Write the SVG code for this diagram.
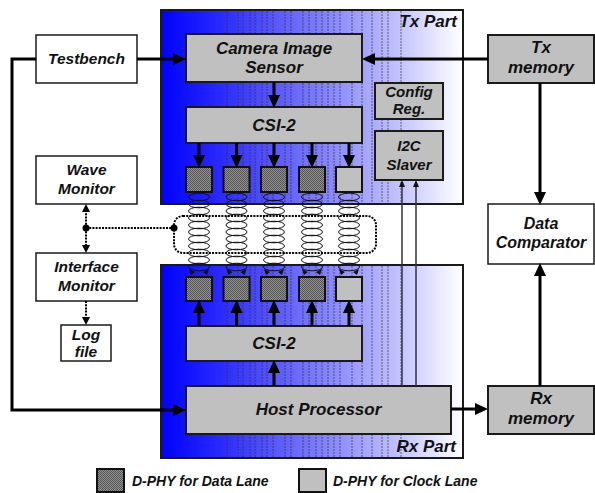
<svg xmlns="http://www.w3.org/2000/svg" width="595" height="493" viewBox="0 0 595 493">
  <style>
    .t { font-family: "Liberation Sans", Arial, sans-serif; font-weight: bold; font-style: italic; font-size: 16px; text-anchor: middle; fill: #111; }
    .big { font-size: 17px; }
    .mid { font-size: 15.5px; }
    .sm { font-size: 15px; }
    .leg { font-size: 14px; text-anchor: start; }
    .end { text-anchor: end; }
    .part { fill: url(#blueFade); stroke: #1a1a1a; stroke-width: 2; }
    .gbox { fill: #c0c0c0; stroke: #1a1a1a; stroke-width: 2; }
    .wbox { fill: #ffffff; stroke: #1a1a1a; stroke-width: 1.5; }
    .phyD { fill: url(#hatch); stroke: #111; stroke-width: 2; }
    .phyC { fill: #c0c0c0; stroke: #111; stroke-width: 2; }
    .band { stroke: #3b3420; stroke-width: 0.8; stroke-dasharray: 2 1; opacity: 0.85; }
    .main { stroke: #000; stroke-width: 3; fill: none; }
    .dot { stroke: #000; stroke-width: 2; stroke-dasharray: 2 1.2; fill: none; }
    .thin { stroke: #333; stroke-width: 1.5; fill: none; }
    .coil { fill: none; stroke: #111; stroke-width: 1; }
  </style>
  <defs>
    <linearGradient id="blueFade" x1="0" y1="0" x2="1" y2="0">
      <stop offset="0" stop-color="#0000ff"/>
      <stop offset="0.2" stop-color="#2a2aff"/>
      <stop offset="0.45" stop-color="#6a6aff"/>
      <stop offset="0.75" stop-color="#b8b8ff"/>
      <stop offset="1" stop-color="#ffffff"/>
    </linearGradient>
    <pattern id="hatch" width="2" height="2" patternUnits="userSpaceOnUse">
      <rect width="2" height="2" fill="#929292"/>
      <rect width="1" height="1" fill="#555"/>
      <rect x="1" y="1" width="1" height="1" fill="#555"/>
    </pattern>
    <marker id="ah" markerUnits="userSpaceOnUse" markerWidth="13" markerHeight="12" refX="0" refY="6" orient="auto">
      <path d="M0,0 L13,6 L0,12 z" fill="#000"/>
    </marker>
    <marker id="ahs" markerUnits="userSpaceOnUse" markerWidth="8" markerHeight="8" refX="0" refY="4" orient="auto">
      <path d="M0,0 L8,4 L0,8 z" fill="#000"/>
    </marker>
    <marker id="aht" markerUnits="userSpaceOnUse" markerWidth="7" markerHeight="6" refX="0" refY="3" orient="auto">
      <path d="M0,0 L7,3 L0,6 z" fill="#111"/>
    </marker>
    <!-- one coupled coil: a stack of loops ending in two inward heads -->
    <g id="coilStack">
      <ellipse class="coil" cx="0" cy="197" rx="10.5" ry="3.8"/><ellipse class="coil" cx="0" cy="204" rx="10.5" ry="3.8"/><ellipse class="coil" cx="0" cy="211" rx="10.5" ry="3.8"/><ellipse class="coil" cx="0" cy="218" rx="10.5" ry="3.8"/><ellipse class="coil" cx="0" cy="225" rx="10.5" ry="3.8"/><ellipse class="coil" cx="0" cy="232" rx="10.5" ry="3.8"/><ellipse class="coil" cx="0" cy="239" rx="10.5" ry="3.8"/><ellipse class="coil" cx="0" cy="246" rx="10.5" ry="3.8"/><ellipse class="coil" cx="0" cy="253" rx="10.5" ry="3.8"/><ellipse class="coil" cx="0" cy="260" rx="10.5" ry="3.8"/><ellipse class="coil" cx="0" cy="267" rx="10.5" ry="3.8"/>
      <path d="M-10,269 L-4,272 L-8,275 z M10,269 L4,272 L8,275 z" fill="#111"/>
    </g>
  </defs>

  <rect width="595" height="493" fill="#ffffff"/>

  <!-- Tx part container -->
  <g id="tx-part">
    <rect class="part" x="161" y="10" width="302" height="194"/>
    <path class="band" d="M227,11V203M238,11V203M243,11V203M250,11V203M255,11V203M262,11V203M267,11V203M273,11V203M285,11V203M291,11V203M303,11V203M309,11V203M316,11V203M322,11V203M328,11V203M334,11V203M340,11V203M352,11V203M362,11V203M372,11V203M382,11V203M388,11V203M401,11V203"/>
    <text class="t big end" x="457" y="27">Tx Part</text>
  </g>

  <!-- Rx part container -->
  <g id="rx-part">
    <rect class="part" x="161" y="265" width="302" height="193"/>
    <path class="band" d="M227,266V457M238,266V457M243,266V457M250,266V457M255,266V457M262,266V457M267,266V457M273,266V457M285,266V457M291,266V457M303,266V457M309,266V457M316,266V457M322,266V457M328,266V457M334,266V457M340,266V457M352,266V457M362,266V457M372,266V457M382,266V457M388,266V457M401,266V457"/>
    <text class="t big end" x="456" y="452">Rx Part</text>
  </g>

  <!-- coupled lanes between the two parts -->
  <g id="lanes">
    <use id="coil-1" href="#coilStack" x="199"/>
    <use id="coil-2" href="#coilStack" x="236.5"/>
    <use id="coil-3" href="#coilStack" x="274"/>
    <use id="coil-4" href="#coilStack" x="312"/>
    <use id="coil-5" href="#coilStack" x="349"/>
    <!-- probe boundary around the lanes -->
    <rect id="probe-loop" class="dot" x="174" y="216" width="202" height="37" rx="9" ry="9"/>
  </g>

  <!-- Tx side blocks -->
  <g id="camera-sensor">
    <rect class="gbox" x="186" y="34" width="176" height="48"/>
    <text class="t big" x="274" y="54">Camera Image</text>
    <text class="t big" x="274" y="73">Sensor</text>
  </g>
  <g id="tx-csi2">
    <rect class="gbox" x="186" y="107" width="176" height="36"/>
    <text class="t big" x="274" y="131">CSI-2</text>
  </g>
  <g id="config-reg">
    <rect class="gbox" x="375" y="83" width="68" height="36"/>
    <text class="t sm" x="409" y="97">Config</text>
    <text class="t sm" x="409" y="114">Reg.</text>
  </g>
  <g id="i2c-slaver">
    <rect class="gbox" x="375" y="131" width="68" height="49"/>
    <text class="t sm" x="409" y="151">I2C</text>
    <text class="t sm" x="409" y="170">Slaver</text>
  </g>
  <g id="tx-phy">
    <rect class="phyD" x="186" y="167" width="26" height="25"/>
    <rect class="phyD" x="223.5" y="167" width="26" height="25"/>
    <rect class="phyD" x="261" y="167" width="26" height="25"/>
    <rect class="phyD" x="299" y="167" width="26" height="25"/>
    <rect class="phyC" x="336" y="167" width="26" height="25"/>
  </g>

  <!-- Rx side blocks -->
  <g id="rx-phy">
    <rect class="phyD" x="186" y="277" width="26" height="24"/>
    <rect class="phyD" x="223.5" y="277" width="26" height="24"/>
    <rect class="phyD" x="261" y="277" width="26" height="24"/>
    <rect class="phyD" x="299" y="277" width="26" height="24"/>
    <rect class="phyC" x="336" y="277" width="26" height="24"/>
  </g>
  <g id="rx-csi2">
    <rect class="gbox" x="186" y="326" width="176" height="35"/>
    <text class="t big" x="274" y="349">CSI-2</text>
  </g>
  <g id="host-processor">
    <rect class="gbox" x="186" y="386" width="265" height="48"/>
    <text class="t big" x="318.5" y="415">Host Processor</text>
  </g>

  <!-- verification environment -->
  <g id="testbench">
    <rect class="wbox" x="36" y="35" width="101" height="48"/>
    <text class="t mid" x="86.5" y="64">Testbench</text>
  </g>
  <g id="wave-monitor">
    <rect class="wbox" x="36" y="156" width="101" height="48"/>
    <text class="t mid" x="86.5" y="175">Wave</text>
    <text class="t mid" x="86.5" y="194">Monitor</text>
  </g>
  <g id="interface-monitor">
    <rect class="wbox" x="36" y="253" width="101" height="48"/>
    <text class="t mid" x="86.5" y="272">Interface</text>
    <text class="t mid" x="86.5" y="291">Monitor</text>
  </g>
  <g id="log-file">
    <rect class="wbox" x="61" y="325" width="50" height="36"/>
    <text class="t mid" x="86" y="340">Log</text>
    <text class="t mid" x="86" y="357">file</text>
  </g>
  <g id="tx-memory">
    <rect class="gbox" x="488" y="35" width="106" height="48"/>
    <text class="t big" x="541" y="53">Tx</text>
    <text class="t big" x="541" y="73">memory</text>
  </g>
  <g id="data-comparator">
    <rect class="wbox" x="488" y="204" width="106" height="60"/>
    <text class="t" x="541" y="229">Data</text>
    <text class="t" x="541" y="248">Comparator</text>
  </g>
  <g id="rx-memory">
    <rect class="gbox" x="488" y="386" width="106" height="48"/>
    <text class="t big" x="541" y="404">Rx</text>
    <text class="t big" x="541" y="424">memory</text>
  </g>

  <!-- connectors -->
  <g id="connectors">
    <!-- testbench drives sensor and host -->
    <path class="main" d="M137,59 H173" marker-end="url(#ah)"/>
    <path class="main" d="M36,59 H12 V410 H173" marker-end="url(#ah)"/>
    <!-- memories -->
    <path class="main" d="M488,59 H375" marker-end="url(#ah)"/>
    <path class="main" d="M540,83 V192" marker-end="url(#ah)"/>
    <path class="main" d="M540,386 V276" marker-end="url(#ah)"/>
    <path class="main" d="M451,409 H475" marker-end="url(#ah)"/>
    <!-- Tx data path -->
    <path class="main" d="M274,82 V95" marker-end="url(#ah)"/>
    <path class="main" d="M199,143 V155" marker-end="url(#ah)"/>
    <path class="main" d="M236.5,143 V155" marker-end="url(#ah)"/>
    <path class="main" d="M274,143 V155" marker-end="url(#ah)"/>
    <path class="main" d="M312,143 V155" marker-end="url(#ah)"/>
    <path class="main" d="M349,143 V155" marker-end="url(#ah)"/>
    <!-- Rx data path -->
    <path class="main" d="M199,326 V313" marker-end="url(#ah)"/>
    <path class="main" d="M236.5,326 V313" marker-end="url(#ah)"/>
    <path class="main" d="M274,326 V313" marker-end="url(#ah)"/>
    <path class="main" d="M312,326 V313" marker-end="url(#ah)"/>
    <path class="main" d="M349,326 V313" marker-end="url(#ah)"/>
    <path class="main" d="M274,386 V373" marker-end="url(#ah)"/>
    <!-- I2C control from host -->
    <path class="thin" d="M402,386 V187" marker-end="url(#aht)"/>
    <path class="thin" d="M416,386 V187" marker-end="url(#aht)"/>
    <!-- monitor probes -->
    <path class="dot" d="M86,228 H174"/>
    <path class="dot" d="M86,228 V212" marker-end="url(#ahs)"/>
    <path class="dot" d="M86,228 V245" marker-end="url(#ahs)"/>
    <path class="dot" d="M86,301 V317" marker-end="url(#ahs)"/>
    <circle cx="86" cy="228" r="3.5" fill="#000"/>
    <circle cx="174" cy="228" r="3.5" fill="#000"/>
  </g>

  <!-- legend -->
  <g id="legend">
    <rect class="phyD" x="97" y="469" width="27" height="23"/>
    <text class="t leg" x="132" y="486">D-PHY for Data Lane</text>
    <rect class="phyC" x="299" y="469" width="27" height="23"/>
    <text class="t leg" x="333" y="486">D-PHY for Clock Lane</text>
  </g>
</svg>
